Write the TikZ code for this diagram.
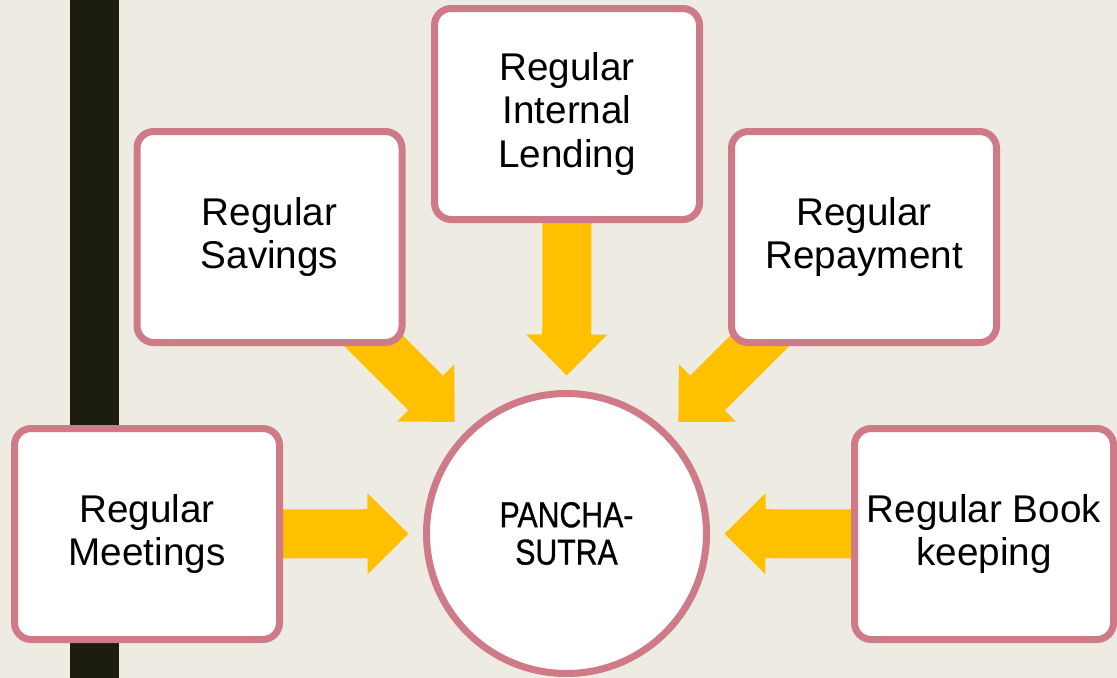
\documentclass[tikz,border=0pt]{standalone}
\usepackage{fontspec}
\setmainfont{Liberation Sans}
\newfontfamily\narrowfont{Liberation Sans}[FakeStretch=0.84,FakeBold=0.8]
\usetikzlibrary{calc}
\definecolor{bgc}{HTML}{EEEBE3}
\definecolor{barc}{HTML}{1C1C0F}
\definecolor{pinkc}{HTML}{CF7A87}
\definecolor{yelc}{HTML}{FFC000}
\tikzset{
  box/.style={draw=pinkc, line width=5.25pt, fill=white, rounded corners=12.5pt,
    minimum width=198.75pt, minimum height=158.25pt, inner sep=0pt, align=center,
    font=\fontsize{29}{32.5}\selectfont},
  hub/.style={circle, draw=pinkc, line width=5.25pt, fill=white, minimum size=210pt,
    inner sep=0pt, align=center, font=\narrowfont\fontsize{27}{28}\selectfont},
  blockfill/.style={fill=yelc}
}
% #1 tail node, #2 head node (circle); tip 158px from the circle centre
\newcommand\blockarrow[2]{%
  \coordinate (tip) at ($(#2.center)!118.5pt!(#1.center)$);
  \coordinate (hb) at ($(tip)!30.75pt!(#1.center)$);
  \fill[blockfill] ($(#1.center)!18.375pt!90:(tip)$) -- ($(hb)!18.375pt!-90:(#1.center)$)
    -- ($(hb)!30.375pt!-90:(#1.center)$) -- (tip) -- ($(hb)!30.375pt!90:(#1.center)$)
    -- ($(hb)!18.375pt!90:(#1.center)$) -- ($(#1.center)!18.375pt!-90:(tip)$) -- cycle;
}
\begin{document}
\begin{tikzpicture}[x=0.75pt, y=-0.75pt]
\useasboundingbox (0,0) rectangle (1117,678);
\fill[bgc] (0,0) rectangle (1117,678);
\fill[barc] (70,0) rectangle (119,678);
\coordinate (c0) at (566.5,533.5);
\path (147,534) coordinate (m0) (269.5,237) coordinate (s0) (567,114) coordinate (l0)
      (864,237) coordinate (r0) (984,534) coordinate (b0);
% arrows (drawn first, under the boxes)
\node[inner sep=0pt] (circA) at (c0) {};
\foreach \t in {m0,s0,l0,r0,b0}{
  \node[inner sep=0pt] (tailA) at (\t) {};
  \blockarrow{tailA}{circA}
}
% boxes
\node[box] (meet) at (m0) {Regular\\Meetings};
\node[box] (sav) at (s0) {Regular\\Savings};
\node[box] (lend) at (l0) {Regular\\Internal\\Lending};
\node[box] (rep) at (r0) {Regular\\Repayment};
\node[box, minimum width=194.25pt] (book) at (b0) {Regular Book\\keeping};
\node[hub] (circ) at (c0) {PANCHA-\\SUTRA};
\end{tikzpicture}
\end{document}
